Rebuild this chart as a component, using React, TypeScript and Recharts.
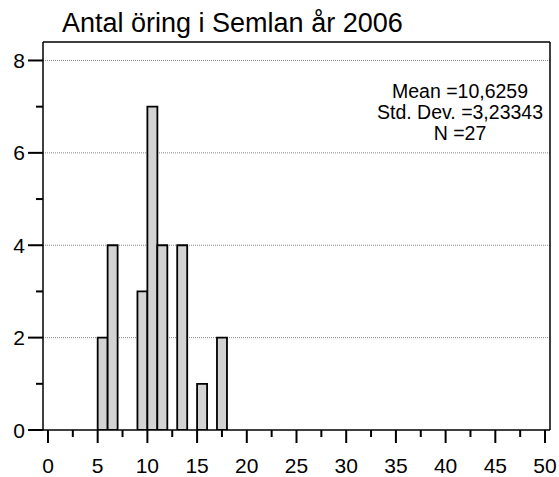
import React from "react";
import { BarChart, Bar, XAxis, YAxis, CartesianGrid } from "recharts";

// histogram bins of width 1, starting at 0 .. 49
const binStarts: number[] = Array.from({ length: 50 }, (_, i) => i);
const binCounts: number[] = [
    0, 0, 0, 0, 0, 2, 4, 0, 0, 3,
    7, 4, 0, 4, 0, 1, 0, 2, 0, 0,
    0, 0, 0, 0, 0, 0, 0, 0, 0, 0,
    0, 0, 0, 0, 0, 0, 0, 0, 0, 0,
    0, 0, 0, 0, 0, 0, 0, 0, 0, 0,
];
const xTicks: number[] = [0, 2.5, 5, 7.5, 10, 12.5, 15, 17.5, 20, 22.5, 25, 27.5, 30, 32.5, 35, 37.5, 40, 42.5, 45, 47.5, 50];
const yTicks: number[] = [0, 1, 2, 3, 4, 5, 6, 7, 8];
const gridValues: number[] = [2, 4, 6, 8];
const statLines: string[] = ["Mean =10,6259", "Std. Dev. =3,23343", "N =27"];
const title = "Antal öring i Semlan år 2006";
const X_DOMAIN: [number, number] = [-0.5, 50.5];
const Y_MAX = 8.4;

const FONT = '"Liberation Sans", Arial, sans-serif';

// bars sit on the bin centre so that each one covers [start, start + 1]
const data = binStarts.map((b, i) => ({ mid: b + 0.5, count: binCounts[i] }));

const XTick = ({ x, y, payload }: any) => {
    const major = payload.value % 5 === 0;
    return (
        <g>
            <line x1={x} x2={x} y1={y} y2={y + (major ? 13 : 7)} stroke="#000" strokeWidth={2} />
            {major && (
                <text x={x} y={y + 43} textAnchor="middle" fontSize={21} fill="#000" fontFamily={FONT}>
                    {payload.value}
                </text>
            )}
        </g>
    );
};

const YTick = ({ x, y, payload }: any) => {
    const major = payload.value % 2 === 0;
    return (
        <g>
            <line x1={x} x2={x - (major ? 15 : 7)} y1={y} y2={y} stroke="#000" strokeWidth={2} />
            {major && (
                <text x={x - 18} y={y + 7.5} textAnchor="end" fontSize={21} fill="#000" fontFamily={FONT}>
                    {payload.value}
                </text>
            )}
        </g>
    );
};

export default function App() {
    return (
        <div style={{ position: "absolute", left: 0, top: 0, width: 559, height: 477, background: "#fff", fontFamily: FONT }}>
            <BarChart
                width={559}
                height={477}
                data={data}
                margin={{ top: 41, right: 8, left: 0, bottom: 0 }}
                barCategoryGap={0}
                barGap={0}
            >
                <CartesianGrid
                    vertical={false}
                    stroke="#888"
                    strokeDasharray="1 1"
                    horizontalCoordinatesGenerator={({ offset }: any) =>
                        gridValues.map(v => offset.top + offset.height * (1 - v / Y_MAX))
                    }
                />
                <XAxis
                    dataKey="mid"
                    type="number"
                    domain={X_DOMAIN}
                    ticks={xTicks}
                    interval={0}
                    tickSize={0}
                    tickMargin={0}
                    tick={<XTick />}
                    height={47}
                    axisLine={{ stroke: "#000", strokeWidth: 1.5 }}
                    allowDataOverflow
                />
                <XAxis
                    xAxisId="top"
                    orientation="top"
                    type="number"
                    domain={X_DOMAIN}
                    tick={false}
                    tickLine={false}
                    height={1}
                    axisLine={{ stroke: "#000", strokeWidth: 1.5 }}
                />
                <YAxis
                    type="number"
                    domain={[0, Y_MAX]}
                    ticks={yTicks}
                    interval={0}
                    tickSize={0}
                    tickMargin={0}
                    tick={<YTick />}
                    width={43}
                    axisLine={{ stroke: "#000", strokeWidth: 1.5 }}
                    allowDataOverflow
                />
                <YAxis
                    yAxisId="right"
                    orientation="right"
                    type="number"
                    domain={[0, Y_MAX]}
                    tick={false}
                    tickLine={false}
                    width={1}
                    axisLine={{ stroke: "#000", strokeWidth: 1.5 }}
                />
                <Bar
                    dataKey="count"
                    fill="#d3d3d3"
                    stroke="#000"
                    strokeWidth={1.8}
                    isAnimationActive={false}
                />
            </BarChart>
            <svg width={559} height={477} style={{ position: "absolute", left: 0, top: 0, pointerEvents: "none" }}>
                <text x={62} y={32} fontSize={27} fontFamily={FONT} fill="#000">{title}</text>
                {statLines.map((s, i) => (
                    <text key={s} x={460} y={98 + i * 21} textAnchor="middle" fontSize={19.5} fontFamily={FONT} fill="#000">
                        {s}
                    </text>
                ))}
            </svg>
        </div>
    );
}
